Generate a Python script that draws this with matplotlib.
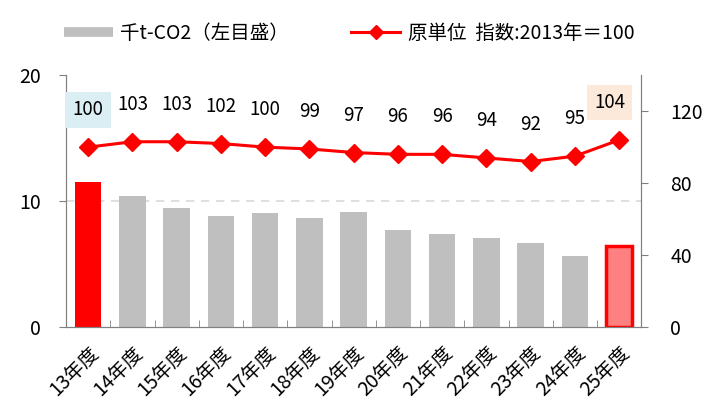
import matplotlib
matplotlib.use("Agg")
import matplotlib.pyplot as plt
from matplotlib.lines import Line2D
import numpy as np

plt.rcParams['font.family'] = ['Noto Sans CJK JP', 'DejaVu Sans']

years = ['13年度', '14年度', '15年度', '16年度', '17年度', '18年度', '19年度',
         '20年度', '21年度', '22年度', '23年度', '24年度', '25年度']
emissions = [11.5, 10.4, 9.45, 8.85, 9.05, 8.65, 9.1, 7.7, 7.4, 7.05, 6.65, 5.65, 6.45]
index = [100, 103, 103, 102, 100, 99, 97, 96, 96, 94, 92, 95, 104]

fig = plt.figure(figsize=(7.2, 4.13), dpi=100)
ax = fig.add_axes([0.0917, 0.208, 0.799, 0.61])
ax2 = ax.twinx()

x = np.arange(len(years))
colors = ['#ff0000'] + ['#bfbfbf'] * (len(years) - 2) + ['#ff8080']
bars = ax.bar(x, emissions, width=0.6, color=colors, zorder=2)
bars[-1].set_edgecolor('#ff0000')
bars[-1].set_linewidth(2.5)

ax.set_ylim(0, 20)
ax.set_yticks([0, 10, 20])
ax.set_xlim(-0.5, len(years) - 0.5)
ax.axhline(10, color='#d9d9d9', linestyle=(0, (5, 4)), linewidth=1.2, zorder=1)

ax2.plot(x, index, color='#ff0000', linewidth=2.2, marker='D', markersize=9, zorder=3)
ax2.set_ylim(0, 140)
ax2.set_yticks([0, 40, 80, 120])

for i, v in enumerate(index):
    box = None
    dx = 0
    if i == 0:
        box = dict(boxstyle='square,pad=0.4', fc='#daeef3', ec='none')
    elif i == len(index) - 1:
        box = dict(boxstyle='square,pad=0.35', fc='#fde9d9', ec='none')
        dx = -7
    ax2.annotate(str(v), (i, v), xytext=(dx, 27), textcoords='offset points',
                 ha='center', va='center', fontsize=13.5, bbox=box)

# ticks between categories
ax.set_xticks(x)
ax.set_xticklabels(years, rotation=45, ha='right', rotation_mode='anchor', fontsize=14)
ax.set_xticks(np.arange(-0.5, len(years), 1), minor=True)
ax.tick_params(axis='x', which='major', length=0, pad=11)
ax.tick_params(axis='x', which='minor', length=5, color='#808080', direction='in')
ax.tick_params(axis='y', labelsize=14, length=5, color='#808080', pad=13)
ax2.tick_params(axis='y', labelsize=14, length=5, color='#808080', pad=16)

for a in (ax, ax2):
    a.spines['top'].set_visible(False)
    for s in ('left', 'right', 'bottom'):
        a.spines[s].set_color('#808080')

handles = [Line2D([], [], color='#bfbfbf', linewidth=7, solid_capstyle='butt'),
           Line2D([], [], color='#ff0000', linewidth=2.2, marker='D', markersize=7)]
fig.legend(handles, ['千t-CO2（左目盛）', '原単位  指数:2013年＝100'],
           loc='center', bbox_to_anchor=(0.485, 0.92), ncol=2, frameon=False,
           fontsize=14, handlelength=2.5, handletextpad=0.4, columnspacing=3.2)

fig.savefig('out.png', dpi=100)
